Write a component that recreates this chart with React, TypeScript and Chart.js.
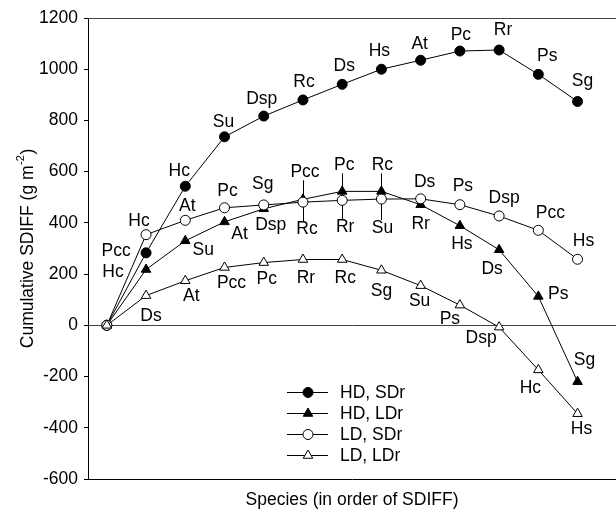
import React, { useEffect, useRef } from "react";
import { Chart, registerables } from "chart.js";

Chart.register(...registerables);

// ---------- data ----------
const positions = [0, 1, 2, 3, 4, 5, 6, 7, 8, 9, 10, 11, 12];
const seriesNames = ["HD, SDr", "HD, LDr", "LD, SDr", "LD, LDr"];

const hdSdrSpecies = ["", "Pcc", "Hc", "Su", "Dsp", "Rc", "Ds", "Hs", "At", "Pc", "Rr", "Ps", "Sg"];
const hdSdrValues = [0, 283, 543, 736, 817, 880, 941, 1000, 1035, 1071, 1075, 980, 874];

const hdLdrSpecies = ["", "Hc", "Su", "At", "Dsp", "Pcc", "Pc", "Rc", "Rr", "Hs", "Ds", "Ps", "Sg"];
const hdLdrValues = [0, 218, 330, 404, 455, 492, 523, 523, 471, 389, 295, 113, -220];

const ldSdrSpecies = ["", "Hc", "At", "Pc", "Sg", "Rc", "Rr", "Su", "Ds", "Ps", "Dsp", "Pcc", "Hs"];
const ldSdrValues = [0, 354, 410, 459, 470, 481, 488, 493, 494, 471, 427, 371, 258];

const ldLdrSpecies = ["", "Ds", "At", "Pcc", "Pc", "Rr", "Rc", "Sg", "Su", "Ps", "Dsp", "Hc", "Hs"];
const ldLdrValues = [0, 116, 174, 226, 245, 257, 257, 215, 155, 79, -7, -174, -345];

const yMin = -600;
const yMax = 1200;
const yStep = 200;
const yTitleMain = "Cumulative SDIFF (g m";
const yTitleSup = "-2";
const yTitleEnd = ")";
const xTitle = "Species (in order of SDIFF)";

// ---------- layout (label offsets in px relative to the point) ----------
const hdSdrOffsets = [[0, 0], [-30, -2], [-6, -15], [-1, -15], [-2, -17], [1, -18], [2, -18], [-2, -18], [-1, -16], [1, -16], [4, -20], [9, -18], [5, -20]];
const hdLdrOffsets = [[0, 0], [-33, 3], [18, 9], [15, 12], [7, 16], [2, -27], [2, -26], [1, -26], [0, 19], [2, 18], [-7, 19], [20, -2], [7, -22]];
const ldSdrOffsets = [[0, 0], [-7, -13], [2, -14], [3, -17], [-1, -21], [4, 27], [3, 27], [1, 29], [4, -17], [3, -19], [5, -18], [12, -17], [6, -18]];
const ldLdrOffsets = [[0, 0], [5, 21], [6, 15], [7, 16], [3, 17], [3, 19], [3, 19], [0, 21], [-1, 16], [-10, 14], [-18, 11], [-8, 18], [4, 15]];
const leaderIndices = [5, 6, 7];

const FONT = '"Liberation Sans", Arial, Helvetica, sans-serif';
const FS = 17.5;

const W = 616;
const H = 513;

function drawMarker(ctx: CanvasRenderingContext2D, style: string, x: number, y: number, r: number, fill: string) {
  ctx.beginPath();
  if (style === "circle") {
    ctx.arc(x, y, r, 0, Math.PI * 2);
  } else {
    let rad = 0;
    ctx.moveTo(x + Math.sin(rad) * r, y - Math.cos(rad) * r);
    rad += (2 * Math.PI) / 3;
    ctx.lineTo(x + Math.sin(rad) * r, y - Math.cos(rad) * r);
    rad += (2 * Math.PI) / 3;
    ctx.lineTo(x + Math.sin(rad) * r, y - Math.cos(rad) * r);
    ctx.closePath();
  }
  ctx.fillStyle = fill;
  ctx.fill();
  ctx.strokeStyle = "#000";
  ctx.lineWidth = 1;
  ctx.stroke();
}

const speciesSets = [hdSdrSpecies, hdLdrSpecies, ldSdrSpecies, ldLdrSpecies];
const offsetSets = [hdSdrOffsets, hdLdrOffsets, ldSdrOffsets, ldLdrOffsets];

const annotatePlugin = {
  id: "annotate",
  beforeDatasetsDraw(chart: any) {
    const { ctx, chartArea } = chart;
    const xs = chart.scales.x;
    const ys = chart.scales.y;
    ctx.save();
    ctx.strokeStyle = "#444";
    ctx.lineWidth = 1;
    ctx.beginPath();
    ctx.moveTo(chartArea.left, Math.round(chartArea.top) + 0.5);
    ctx.lineTo(chartArea.right, Math.round(chartArea.top) + 0.5);
    ctx.stroke();

    ctx.strokeStyle = "#000";
    leaderIndices.forEach((i) => {
      const px = Math.round(xs.getPixelForValue(positions[i])) + 0.5;
      const up = ys.getPixelForValue(hdLdrValues[i]) + hdLdrOffsets[i][1] + 8;
      const dn = ys.getPixelForValue(ldSdrValues[i]) + ldSdrOffsets[i][1] - 8;
      ctx.beginPath();
      ctx.moveTo(px, up);
      ctx.lineTo(px, dn);
      ctx.stroke();
    });
    ctx.restore();
  },
  afterDatasetsDraw(chart: any) {
    const { ctx, chartArea } = chart;
    ctx.save();
    ctx.fillStyle = "#000";
    ctx.font = `${FS}px ${FONT}`;
    ctx.textAlign = "center";
    ctx.textBaseline = "middle";
    // point labels
    chart.data.datasets.forEach((ds: any, di: number) => {
      const meta = chart.getDatasetMeta(di);
      const names = speciesSets[di];
      const offs = offsetSets[di];
      meta.data.forEach((el: any, i: number) => {
        if (!names[i]) return;
        ctx.fillText(names[i], el.x + offs[i][0], el.y + offs[i][1]);
      });
    });

    // legend
    const legX1 = 287;
    const legX2 = 328;
    const legMx = 308;
    const legTx = 340;
    const legY0 = 392;
    const legDy = 21;
    chart.data.datasets.forEach((ds: any, di: number) => {
      const yy = legY0 + di * legDy;
      ctx.strokeStyle = "#000";
      ctx.lineWidth = 1;
      ctx.beginPath();
      ctx.moveTo(legX1, Math.round(yy) + 0.5);
      ctx.lineTo(legX2, Math.round(yy) + 0.5);
      ctx.stroke();
      drawMarker(ctx, ds.pointStyle, legMx, Math.round(yy) + 0.5, ds.pointRadius, ds.pointBackgroundColor);
      ctx.fillStyle = "#000";
      ctx.textAlign = "left";
      ctx.textBaseline = "middle";
      ctx.font = `${FS}px ${FONT}`;
      ctx.fillText(ds.label, legTx, yy + 1);
    });

    // x title
    ctx.textAlign = "center";
    ctx.textBaseline = "alphabetic";
    ctx.font = `${FS}px ${FONT}`;
    ctx.fillText(xTitle, (chartArea.left + chartArea.right) / 2, 505);

    // y title with superscript
    ctx.translate(33, (chartArea.top + chartArea.bottom) / 2);
    ctx.rotate(-Math.PI / 2);
    ctx.textAlign = "left";
    ctx.font = `${FS}px ${FONT}`;
    const w1 = ctx.measureText(yTitleMain).width;
    const w3 = ctx.measureText(yTitleEnd).width;
    ctx.font = `11px ${FONT}`;
    const w2 = ctx.measureText(yTitleSup).width;
    const total = w1 + w2 + w3 + 1;
    let cx = -total / 2;
    ctx.font = `${FS}px ${FONT}`;
    ctx.fillText(yTitleMain, cx, 0);
    cx += w1 + 0.5;
    ctx.font = `11px ${FONT}`;
    ctx.fillText(yTitleSup, cx, -9);
    cx += w2 + 0.5;
    ctx.font = `${FS}px ${FONT}`;
    ctx.fillText(yTitleEnd, cx, 0);
    ctx.restore();
  },
};

function makeDataset(label: string, values: number[], style: string, filled: boolean, order: number) {
  return {
    label,
    data: positions.map((p, i) => ({ x: p, y: values[i] })),
    borderColor: "#000",
    borderWidth: 1,
    pointStyle: style,
    pointRadius: style === "circle" ? 5 : 5.5,
    pointBackgroundColor: filled ? "#000" : "#fff",
    pointBorderColor: "#000",
    pointBorderWidth: 1,
    pointHoverRadius: style === "circle" ? 5 : 5.5,
    tension: 0,
    fill: false,
    clip: false,
    order,
  };
}

export default function App() {
  const ref = useRef<HTMLCanvasElement | null>(null);
  useEffect(() => {
    if (!ref.current) return;
    const chart = new Chart(ref.current, {
      type: "line",
      data: {
        datasets: [
          makeDataset(seriesNames[0], hdSdrValues, "circle", true, 3),
          makeDataset(seriesNames[1], hdLdrValues, "triangle", true, 2),
          makeDataset(seriesNames[2], ldSdrValues, "circle", false, 1),
          makeDataset(seriesNames[3], ldLdrValues, "triangle", false, 0),
        ] as any,
      },
      options: {
        responsive: false,
        animation: false,
        events: [],
        layout: { autoPadding: false, padding: { top: 18, left: 0, right: 0, bottom: 0 } },
        plugins: {
          legend: { display: false },
          tooltip: { enabled: false },
          title: { display: false },
        },
        scales: {
          x: {
            type: "linear",
            min: -0.48,
            max: 12.98,
            grid: { display: false, drawTicks: false },
            ticks: { display: false },
            border: { display: true, color: "#000", width: 1 },
            afterFit: (s: any) => {
              s.height = 34;
            },
          },
          y: {
            type: "linear",
            min: yMin,
            max: yMax,
            ticks: {
              stepSize: yStep,
              color: "#000",
              font: { family: FONT, size: FS },
              padding: 6,
              callback: (v: any) => String(v),
            },
            grid: {
              color: (c: any) => (c.tick && c.tick.value === 0 ? "#444" : "rgba(0,0,0,0)"),
              tickColor: "#000",
              tickLength: 4,
              drawOnChartArea: true,
            },
            border: { color: "#000", width: 1 },
            afterFit: (s: any) => {
              s.width = 88;
            },
          },
        },
      } as any,
      plugins: [annotatePlugin],
    });
    return () => chart.destroy();
  }, []);
  return (
    <div style={{ position: "fixed", left: 0, top: 0, width: W, height: H, background: "#fff" }}>
      <canvas ref={ref} width={W} height={H} style={{ width: W, height: H, display: "block" }} />
    </div>
  );
}
